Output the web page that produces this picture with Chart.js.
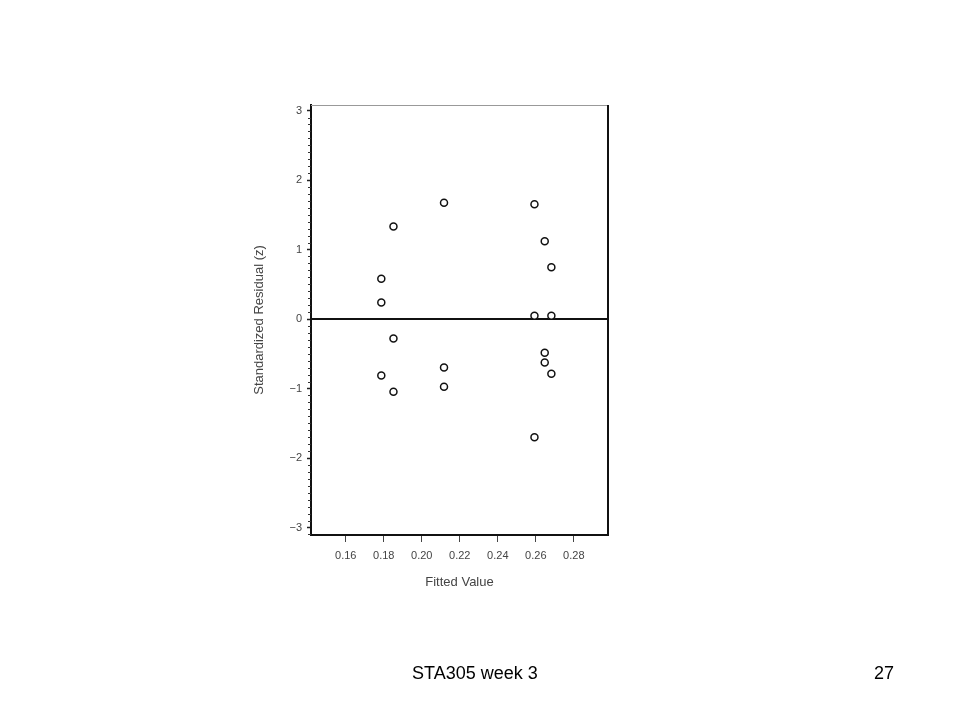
<!DOCTYPE html>
<html>
<head>
<meta charset="utf-8">
<script src="https://cdn.jsdelivr.net/npm/chart.js@4"></script>
<style>
  html, body { margin: 0; padding: 0; background: #fff; }
  #wrap { position: relative; width: 960px; height: 720px; }
  #residChart { position: absolute; left: 0; top: 0; }
  .foot { position: absolute; font-family: "Liberation Sans", Arial, sans-serif; font-size: 18px; color: #000; top: 663px; }
</style>
</head>
<body>
<div id="wrap">
  <canvas id="residChart" width="960" height="720"></canvas>
  <div class="foot" style="left:412px;">STA305 week 3</div>
  <div class="foot" style="left:874px;">27</div>
</div>
<script>
// residuals vs fitted values
const fittedValues = [0.1787, 0.1787, 0.1787, 0.1851, 0.1851, 0.1851,
                      0.2117, 0.2117, 0.2117, 0.2593, 0.2593, 0.2593,
                      0.2647, 0.2647, 0.2647, 0.2682, 0.2682, 0.2682];
const residuals = [0.578, 0.237, -0.813, 1.331, -0.281, -1.047,
                   1.672, -0.698, -0.976, 1.652, 0.046, -1.70,
                   1.119, -0.486, -0.626, 0.745, 0.046, -0.788];
const xTickValues = [0.16, 0.18, 0.20, 0.22, 0.24, 0.26, 0.28];
const yTickValues = [-3, -2, -1, 0, 1, 2, 3];

const X_MIN = 0.1417, X_MAX = 0.2980;
const Y_MIN = -3.108, Y_MAX = 3.08;

const tickFont = { family: '"Liberation Sans", Arial, sans-serif', size: 11 };
const titleFont = { family: '"Liberation Sans", Arial, sans-serif', size: 13 };

// box lines the axes don't draw + minor ticks on the y axis
const framePlugin = {
  id: 'frame',
  afterDraw(chart) {
    const { ctx, chartArea: a } = chart;
    const y = chart.scales.y;
    ctx.save();
    ctx.strokeStyle = '#999';
    ctx.lineWidth = 1;
    ctx.beginPath();
    ctx.moveTo(a.left, a.top + 0.5);
    ctx.lineTo(a.right, a.top + 0.5);
    ctx.stroke();
    ctx.strokeStyle = '#111';
    ctx.lineWidth = 2;
    ctx.beginPath();
    ctx.moveTo(a.right, a.top);
    ctx.lineTo(a.right, a.bottom);
    ctx.stroke();
    ctx.lineWidth = 1;
    ctx.strokeStyle = '#333';
    for (let i = -31; i <= 30; i++) {
      if (i % 10 === 0) continue;
      const py = Math.round(y.getPixelForValue(i / 10)) + 0.5;
      ctx.beginPath();
      ctx.moveTo(a.left - 3, py);
      ctx.lineTo(a.left, py);
      ctx.stroke();
    }
    ctx.restore();
  }
};

const ctx = document.getElementById('residChart').getContext('2d');

new Chart(ctx, {
  type: 'scatter',
  data: {
    datasets: [{
      label: 'Residuals',
      data: fittedValues.map((v, i) => ({ x: v, y: residuals[i] })),
      pointStyle: 'circle',
      pointRadius: 3.5,
      borderWidth: 1.5,
      borderColor: '#111',
      backgroundColor: '#fff'
    }, {
      label: 'zero',
      type: 'line',
      data: [{ x: X_MIN, y: 0 }, { x: X_MAX, y: 0 }],
      borderColor: '#111',
      borderWidth: 2,
      pointRadius: 0
    }]
  },
  options: {
    responsive: false,
    animation: false,
    layout: { padding: { left: 249, right: 352, top: 105, bottom: 127 } },
    plugins: {
      legend: { display: false },
      tooltip: { enabled: false }
    },
    scales: {
      x: {
        type: 'linear',
        min: X_MIN,
        max: X_MAX,
        afterBuildTicks: s => { s.ticks = xTickValues.map(v => ({ value: v })); },
        afterFit: s => {
          s.height = 58;
          s.paddingLeft = s.paddingRight = 0;
        },
        ticks: {
          color: '#444',
          font: tickFont,
          padding: 7,
          maxRotation: 0,
          callback: v => v.toFixed(2)
        },
        grid: { display: true, drawOnChartArea: false, drawTicks: true, tickLength: 7, tickColor: '#444', tickWidth: 1 },
        border: { display: true, color: '#111', width: 2 },
        title: {
          display: true,
          text: 'Fitted Value',
          color: '#444',
          font: titleFont,
          padding: { top: 0, bottom: 3 }
        }
      },
      y: {
        type: 'linear',
        min: Y_MIN,
        max: Y_MAX,
        afterBuildTicks: s => { s.ticks = yTickValues.map(v => ({ value: v })); },
        afterFit: s => {
          s.width = 62;
          s.paddingTop = s.paddingBottom = 0;
        },
        ticks: {
          color: '#444',
          font: tickFont,
          padding: 5,
          callback: v => (v < 0 ? '\u2212' + Math.abs(v) : String(v))
        },
        grid: { display: true, drawOnChartArea: false, drawTicks: true, tickLength: 4, tickColor: '#222', tickWidth: 1.5 },
        border: { display: true, color: '#111', width: 2 },
        title: {
          display: true,
          text: 'Standardized Residual (z)',
          color: '#444',
          font: titleFont,
          padding: { top: 3, bottom: 0 }
        }
      }
    }
  },
  plugins: [framePlugin]
});
</script>
</body>
</html>
